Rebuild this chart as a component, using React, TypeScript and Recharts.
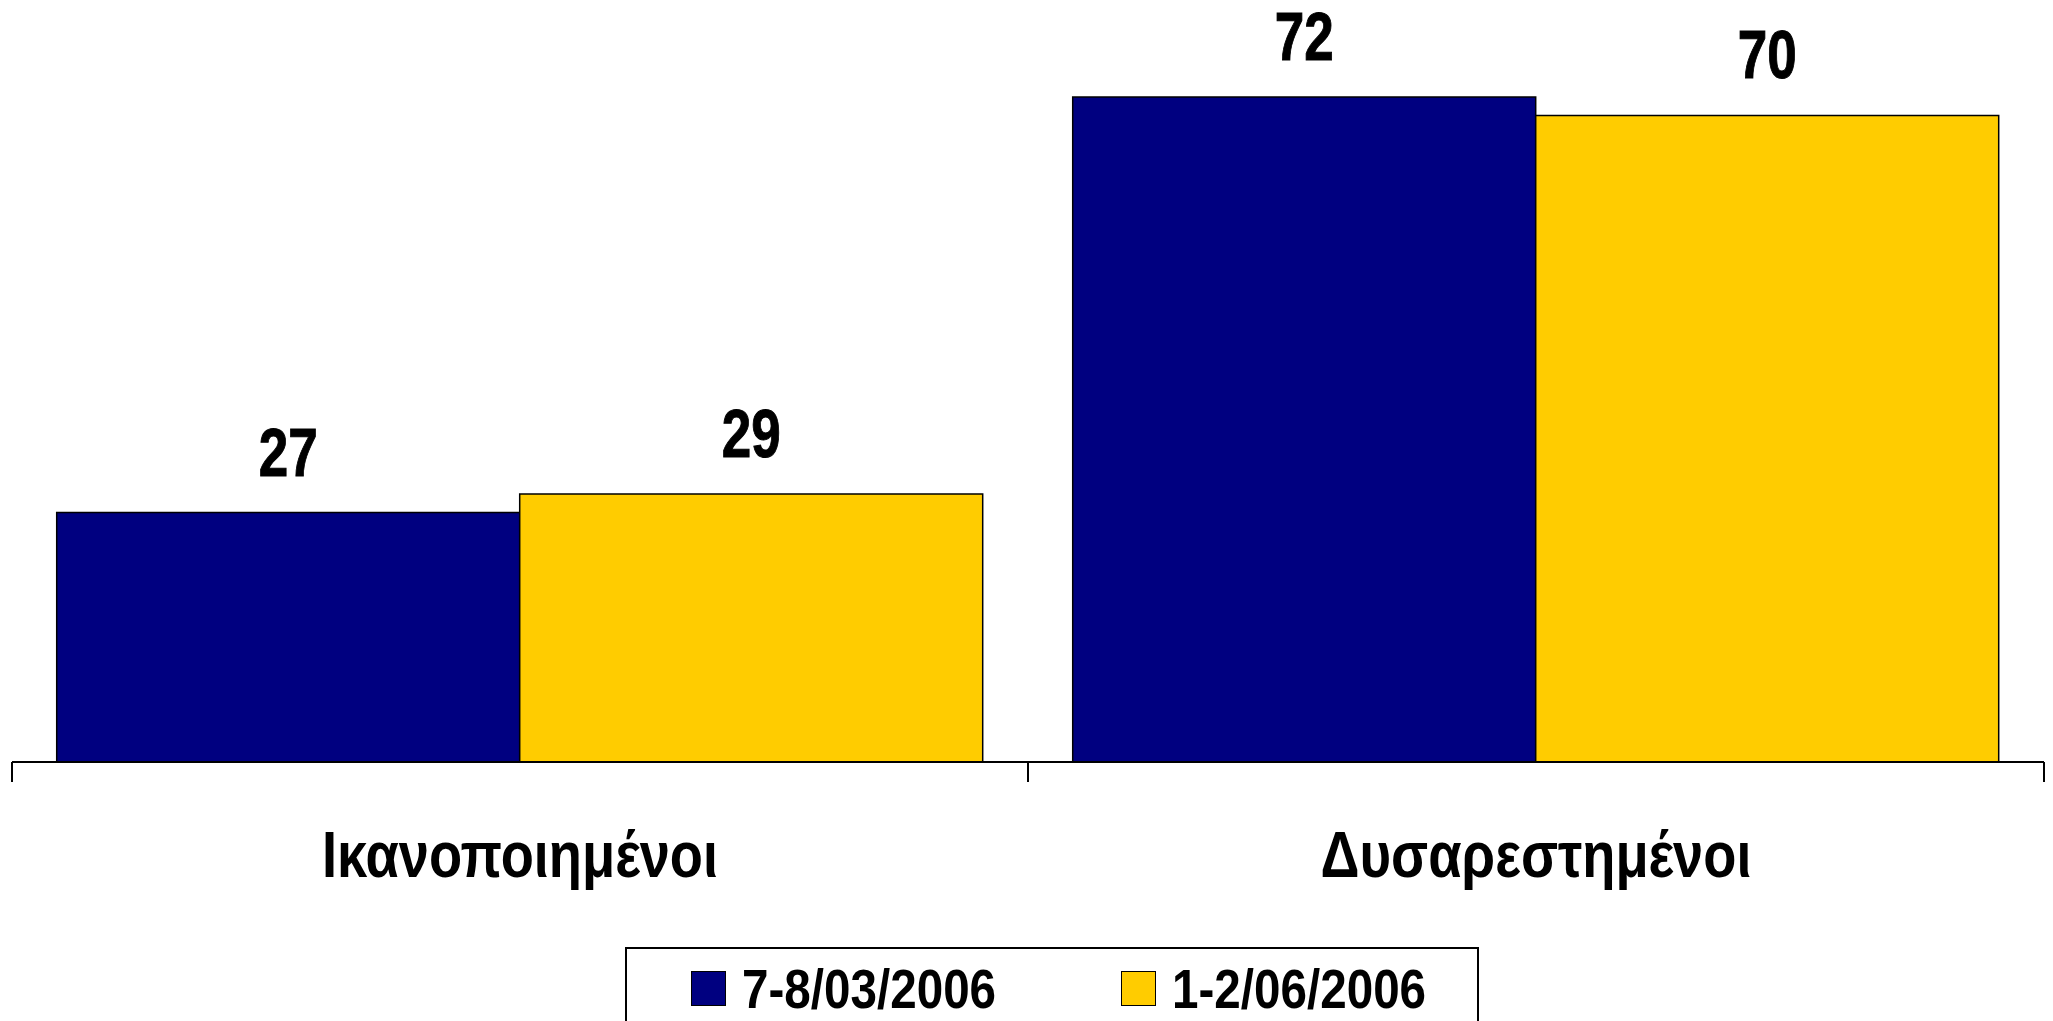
import React from 'react';
import { BarChart, Bar, XAxis, YAxis, Legend, LabelList } from 'recharts';

const categories = ['Ικανοποιημένοι', 'Δυσαρεστημένοι'];
const seriesNames = ['7-8/03/2006', '1-2/06/2006'];
const march = [27, 72];
const june = [29, 70];
const colors = ['#000080', '#FFCC00'];

const data = categories.map((name, i) => ({ name, march: march[i], june: june[i] }));

const W = 2053;
const H = 1021;
const margin = { top: 23, right: 9, left: 12, bottom: 139 };
const axisHeight = 120;
const plotBottom = H - margin.bottom - axisHeight;
const plotWidth = W - margin.left - margin.right;
const halfBand = plotWidth / (2 * categories.length);
const font = '"Liberation Sans", Arial, sans-serif';

const CategoryTick = (props: any) => {
  const { x, payload, index } = props;
  const last = index === categories.length - 1;
  return (
    <g>
      <line x1={x - halfBand} x2={x - halfBand} y1={plotBottom} y2={plotBottom + 20} stroke="#000" strokeWidth={2} />
      {last && (
        <line x1={x + halfBand} x2={x + halfBand} y1={plotBottom} y2={plotBottom + 20} stroke="#000" strokeWidth={2} />
      )}
      <text
        transform={`translate(${x},${plotBottom + 115}) scale(0.835,1)`}
        textAnchor="middle"
        fontFamily={font}
        fontWeight="bold"
        fontSize={65}
        fill="#000"
      >
        {payload.value}
      </text>
    </g>
  );
};

const ValueLabel = (props: any) => {
  const { x, y, width, value } = props;
  return (
    <text
      transform={`translate(${x + width / 2},${y - 37}) scale(0.78,1)`}
      textAnchor="middle"
      fontFamily={font}
      fontWeight="bold"
      fontSize={68}
      stroke="#000"
      strokeWidth={1}
      fill="#000"
    >
      {value}
    </text>
  );
};

const LegendBox = (props: any) => {
  // keep the series order, not the alphabetical one
  const items = [...(props.payload || [])].sort(
    (a: any, b: any) => seriesNames.indexOf(a.value) - seriesNames.indexOf(b.value)
  );
  return (
    <div
      style={{
        position: 'relative',
        width: 854,
        height: 74,
        boxSizing: 'border-box',
        border: '2px solid #000',
        borderBottom: 'none',
        background: '#fff',
      }}
    >
      {items.map((entry: any, i: number) => (
        <div
          key={entry.value}
          style={{
            position: 'absolute',
            left: 64 + i * 430,
            top: 22,
            height: 35,
            display: 'flex',
            alignItems: 'center',
          }}
        >
          <span
            style={{
              display: 'inline-block',
              width: 33,
              height: 33,
              background: entry.color,
              border: '1px solid #000',
            }}
          />
          <span
            style={{
              display: 'inline-block',
              marginLeft: 16,
              fontFamily: font,
              fontWeight: 'bold',
              fontSize: 56,
              lineHeight: '35px',
              whiteSpace: 'nowrap',
              transform: 'scaleX(0.85)',
              transformOrigin: 'left center',
            }}
          >
            {entry.value}
          </span>
        </div>
      ))}
    </div>
  );
};

export default function App() {
  return (
    <div style={{ position: 'absolute', left: 0, top: 0, width: W, height: H, background: '#fff', overflow: 'hidden' }}>
      <BarChart width={W} height={H} data={data} margin={margin} barCategoryGap="4.4%" barGap={0}>
        <XAxis
          dataKey="name"
          height={axisHeight}
          axisLine={{ stroke: '#000', strokeWidth: 2 }}
          tickLine={false}
          tick={<CategoryTick />}
          interval={0}
        />
        <YAxis hide domain={[0, 80]} />
        <Legend
          verticalAlign="middle"
          align="center"
          layout="horizontal"
          wrapperStyle={{ left: 625, top: 947, width: 854, height: 74 }}
          content={<LegendBox />}
        />
        <Bar dataKey="march" name={seriesNames[0]} fill={colors[0]} stroke="#000" strokeWidth={1.5} isAnimationActive={false}>
          <LabelList dataKey="march" content={<ValueLabel />} />
        </Bar>
        <Bar dataKey="june" name={seriesNames[1]} fill={colors[1]} stroke="#000" strokeWidth={1.5} isAnimationActive={false}>
          <LabelList dataKey="june" content={<ValueLabel />} />
        </Bar>
      </BarChart>
    </div>
  );
}
